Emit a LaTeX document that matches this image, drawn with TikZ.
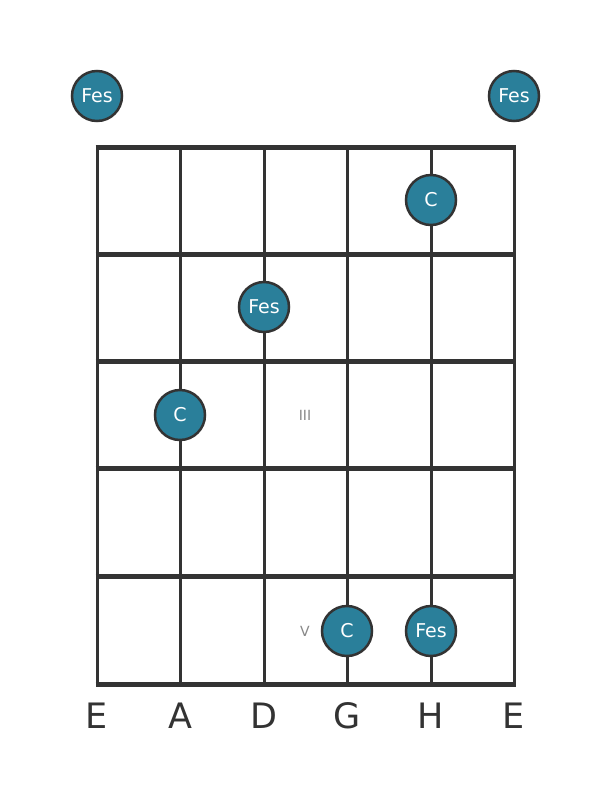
\documentclass[tikz,border=0pt]{standalone}
\usepackage{fontspec}
\setmainfont{DejaVu Sans}
\definecolor{ln}{HTML}{333333}
\definecolor{dotc}{HTML}{2A7F9A}
\definecolor{rn}{HTML}{888888}
\tikzset{
  fret/.style={draw=ln, line width=5pt},
  strg/.style={draw=ln, line width=3pt},
  dot/.style={circle, fill=dotc, draw=ln, line width=2.5pt, minimum size=50pt, inner sep=0pt, text=white, font=\fontsize{19}{19}\selectfont},
  roman/.style={text=rn, font=\fontsize{14}{14}\selectfont},
  sname/.style={text=ln, font=\fontsize{35}{35}\selectfont}
}
\begin{document}
\begin{tikzpicture}[x=1pt,y=-1pt]
\useasboundingbox[fill=white] (0,0) rectangle (611,801);
\foreach \x [count=\i] in {97,180,264,347,431,514} {
  \coordinate (st\i) at (\x,147);
  \coordinate (sb\i) at (\x,684);
  \draw[strg] (st\i) -- (sb\i);
}
\foreach \y [count=\j] in {147,254,361,468,576,684} {
  \coordinate (fl\j) at (95.5,\y);
  \coordinate (fr\j) at (515.5,\y);
  \draw[fret] (fl\j) -- (fr\j);
}
\node[dot] (o1) at (97,96) {Fes};
\node[dot] (o6) at (514,96) {Fes};
\node[dot] (n1) at (431,200) {C};
\node[dot] (n2) at (264,307) {Fes};
\node[dot] (n3) at (180,415) {C};
\node[dot] (n4) at (347,631) {C};
\node[dot] (n5) at (431,631) {Fes};
\node[roman] (r3) at (305,415) {III};
\node[roman] (r5) at (305,631) {V};
\foreach \x/\l [count=\i] in {97/E,180/A,264/D,347/G,431/H,514/E} {
  \node[sname] (lab\i) at (\x,716) {\l};
}
\end{tikzpicture}
\end{document}
